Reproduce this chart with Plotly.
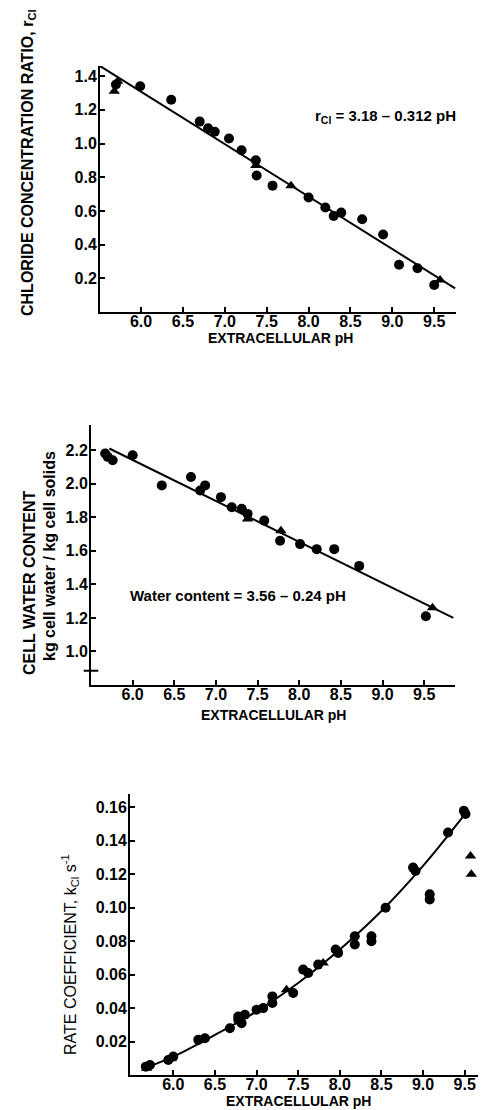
import plotly.graph_objects as go

# ---------------- data ----------------
# Panel A: chloride concentration ratio
a_circ_x = [5.70, 5.99, 6.36, 6.70, 6.80, 6.88, 7.05, 7.20, 7.37, 7.38, 7.57, 8.00, 8.20, 8.30, 8.39, 8.64, 8.89, 9.08, 9.30, 9.50]
a_circ_y = [1.35, 1.34, 1.26, 1.13, 1.09, 1.07, 1.03, 0.96, 0.90, 0.81, 0.75, 0.68, 0.62, 0.57, 0.59, 0.55, 0.46, 0.28, 0.26, 0.16]
a_tri_x = [5.68, 5.72, 7.37, 7.79, 9.57]
a_tri_y = [1.31, 1.37, 0.87, 0.75, 0.19]
a_line_x = [5.51, 9.75]
a_line_y = [1.46, 0.14]

# Panel B: cell water content
b_circ_x = [5.67, 5.70, 5.76, 6.00, 6.35, 6.70, 6.81, 6.87, 7.06, 7.19, 7.31, 7.38, 7.58, 7.77, 8.01, 8.21, 8.42, 8.72, 9.52]
b_circ_y = [2.18, 2.16, 2.14, 2.17, 1.99, 2.04, 1.96, 1.99, 1.92, 1.86, 1.85, 1.82, 1.78, 1.66, 1.64, 1.61, 1.61, 1.51, 1.21]
b_tri_x = [7.38, 7.78, 9.60]
b_tri_y = [1.79, 1.72, 1.26]
b_line_x = [5.72, 9.85]
b_line_y = [2.21, 1.20]

# Panel C: rate coefficient
c_circ_x = [5.67, 5.72, 5.94, 6.00, 6.30, 6.38, 6.68, 6.78, 6.78, 6.82, 6.86, 7.00, 7.08, 7.19, 7.19, 7.44,
            7.56, 7.62, 7.74, 7.95, 7.98, 8.18, 8.18, 8.38, 8.38, 8.55, 8.88, 8.91, 9.08, 9.08, 9.30, 9.49, 9.51]
c_circ_y = [0.005, 0.006, 0.009, 0.011, 0.021, 0.022, 0.028, 0.035, 0.033, 0.031, 0.036, 0.039, 0.040, 0.047, 0.043, 0.049,
            0.063, 0.061, 0.066, 0.075, 0.073, 0.083, 0.078, 0.083, 0.080, 0.100, 0.124, 0.122, 0.108, 0.105, 0.145, 0.158, 0.156]
c_tri_x = [5.68, 7.36, 7.80, 9.57, 9.58]
c_tri_y = [0.004, 0.051, 0.067, 0.131, 0.120]
c_curve_x = [5.70, 6.0, 6.5, 7.0, 7.5, 8.0, 8.5, 9.0, 9.52]
c_curve_y = [0.005, 0.011, 0.024, 0.038, 0.055, 0.075, 0.098, 0.125, 0.157]

x_tick_vals = [6.0, 6.5, 7.0, 7.5, 8.0, 8.5, 9.0, 9.5]
x_tick_text = ["6.0", "6.5", "7.0", "7.5", "8.0", "8.5", "9.0", "9.5"]
a_ytick_vals = [0.2, 0.4, 0.6, 0.8, 1.0, 1.2, 1.4]
a_ytick_text = ["0.2", "0.4", "0.6", "0.8", "1.0", "1.2", "1.4"]
b_ytick_vals = [1.0, 1.2, 1.4, 1.6, 1.8, 2.0, 2.2]
b_ytick_text = ["1.0", "1.2", "1.4", "1.6", "1.8", "2.0", "2.2"]
c_ytick_vals = [0.02, 0.04, 0.06, 0.08, 0.10, 0.12, 0.14, 0.16]
c_ytick_text = ["0.02", "0.04", "0.06", "0.08", "0.10", "0.12", "0.14", "0.16"]

# ---------------- figure ----------------
W, H = 488, 1110
FONT = "Liberation Sans, Arial, sans-serif"
BLK = "black"

fig = go.Figure()

def add_panel(n, cx, cy, tx, ty, lx, ly, line_shape="linear"):
    xa = "x" if n == 1 else f"x{n}"
    ya = "y" if n == 1 else f"y{n}"
    fig.add_trace(go.Scatter(x=lx, y=ly, mode="lines", line=dict(color=BLK, width=2, shape=line_shape),
                             xaxis=xa, yaxis=ya, showlegend=False, hoverinfo="skip"))
    fig.add_trace(go.Scatter(x=cx, y=cy, mode="markers", marker=dict(symbol="circle", size=10, color=BLK),
                             xaxis=xa, yaxis=ya, showlegend=False))
    fig.add_trace(go.Scatter(x=tx, y=ty, mode="markers", marker=dict(symbol="triangle-up", size=10, color=BLK),
                             xaxis=xa, yaxis=ya, showlegend=False))

add_panel(1, a_circ_x, a_circ_y, a_tri_x, a_tri_y, a_line_x, a_line_y)
add_panel(2, b_circ_x, b_circ_y, b_tri_x, b_tri_y, b_line_x, b_line_y)
add_panel(3, c_circ_x, c_circ_y, c_tri_x, c_tri_y, c_curve_x, c_curve_y, line_shape="spline")

def px_x(a, b):
    return [a / W, b / W]

def px_y(top, bottom):
    return [1 - bottom / H, 1 - top / H]

def bold(lst):
    return ["<b>" + s + "</b>" for s in lst]

tickfont = dict(family=FONT, size=16, color=BLK)
axis_common = dict(showline=True, linecolor=BLK, linewidth=2, ticks="inside", ticklen=5, tickwidth=1.5,
                   tickcolor=BLK, showgrid=False, zeroline=False, tickfont=tickfont, mirror=False)
xaxis_extra = dict(ticklabelstandoff=-6)
yaxis_extra = dict(ticklabelstandoff=-2)

fig.update_layout(
    width=W, height=H, margin=dict(l=0, r=0, t=0, b=0),
    paper_bgcolor="white", plot_bgcolor="white",
    font=dict(family=FONT, color=BLK),
    xaxis=dict(domain=px_x(92, 448), range=[5.51, 9.76], anchor="y",
               tickvals=x_tick_vals, ticktext=bold(x_tick_text), **axis_common, **xaxis_extra),
    yaxis=dict(domain=px_y(58, 304), range=[0.0, 1.46], anchor="x",
               tickvals=a_ytick_vals, ticktext=bold(a_ytick_text), **axis_common, **yaxis_extra),
    xaxis2=dict(domain=px_x(83, 447), range=[5.50, 9.87], anchor="y2",
                tickvals=x_tick_vals, ticktext=bold(x_tick_text), **axis_common, **xaxis_extra),
    yaxis2=dict(domain=px_y(417, 677), range=[0.80, 2.35], anchor="x2",
                tickvals=b_ytick_vals, ticktext=bold(b_ytick_text), **axis_common, **yaxis_extra),
    xaxis3=dict(domain=px_x(122, 470), range=[5.48, 9.66], anchor="y3",
                tickvals=x_tick_vals, ticktext=bold(x_tick_text), **axis_common, **xaxis_extra),
    yaxis3=dict(domain=px_y(786, 1067), range=[0.0, 0.168], anchor="x3",
                tickvals=c_ytick_vals, ticktext=bold(c_ytick_text), **axis_common, **yaxis_extra),
)

# axis break mark on panel B
fig.add_shape(type="line", xref="x2 domain", yref="y2", x0=-0.02, x1=0.02, y0=0.885, y1=0.885,
              line=dict(color=BLK, width=2))

title_font = dict(family=FONT, size=14, color=BLK)
ytitle_font = dict(family=FONT, size=16, color=BLK)
ann = []
# x titles
ann.append(dict(text="<b>EXTRACELLULAR pH</b>", x=272 / W, y=1 - 330 / H, xref="paper", yref="paper",
                showarrow=False, font=title_font, xanchor="center", yanchor="middle"))
ann.append(dict(text="<b>EXTRACELLULAR pH</b>", x=265 / W, y=1 - 707 / H, xref="paper", yref="paper",
                showarrow=False, font=title_font, xanchor="center", yanchor="middle"))
ann.append(dict(text="<b>EXTRACELLULAR pH</b>", x=290 / W, y=1 - 1093 / H, xref="paper", yref="paper",
                showarrow=False, font=title_font, xanchor="center", yanchor="middle"))
# y titles
ann.append(dict(text="<b>CHLORIDE CONCENTRATION RATIO, r<sub>Cl</sub></b>", x=20 / W, y=1 - 155 / H,
                xref="paper", yref="paper", showarrow=False, font=ytitle_font, textangle=-90,
                xanchor="center", yanchor="middle"))
ann.append(dict(text="<b>CELL WATER CONTENT</b>", x=21 / W, y=1 - 575 / H,
                xref="paper", yref="paper", showarrow=False, font=ytitle_font, textangle=-90,
                xanchor="center", yanchor="middle"))
ann.append(dict(text="<b>kg cell water / kg cell solids</b>", x=41 / W, y=1 - 548 / H,
                xref="paper", yref="paper", showarrow=False, font=ytitle_font, textangle=-90,
                xanchor="center", yanchor="middle"))
ann.append(dict(text="RATE COEFFICIENT, k<sub>Cl</sub> s<sup>-1</sup>", x=62 / W, y=1 - 947 / H,
                xref="paper", yref="paper", showarrow=False, font=ytitle_font, textangle=-90,
                xanchor="center", yanchor="middle"))
# equations
ann.append(dict(text="<b>r<sub>Cl</sub> = 3.18 \u2013 0.312 pH</b>", x=305 / W, y=1 - 108 / H,
                xref="paper", yref="paper", showarrow=False, font=dict(family=FONT, size=15, color=BLK),
                xanchor="left", yanchor="middle"))
ann.append(dict(text="<b>Water content = 3.56 \u2013 0.24 pH</b>", x=120 / W, y=1 - 587 / H,
                xref="paper", yref="paper", showarrow=False, font=dict(family=FONT, size=15, color=BLK),
                xanchor="left", yanchor="middle"))
fig.update_layout(annotations=ann)

fig.write_html("out.html")
